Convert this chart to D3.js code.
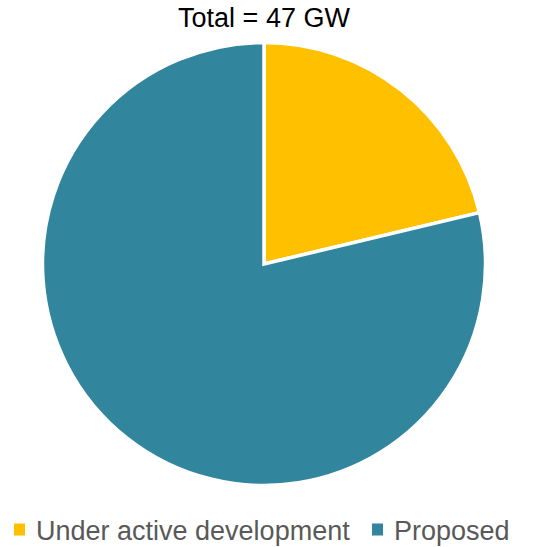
<!DOCTYPE html>
<html><head><meta charset="utf-8">
<script src="https://cdn.jsdelivr.net/npm/d3@7"></script>
<style>body{margin:0;background:#fff}svg{display:block}</style>
</head><body>
<svg id="c" width="546" height="547"></svg>
<script>
const categories = ["Under active development", "Proposed"];
const values = [10, 37];
const colors = ["#FFC000", "#31859C"];
const title = "Total = 47 GW";

const FONT = "'Liberation Sans', Arial, sans-serif";
const svg = d3.select("#c");
const cx = 264, cy = 264, r = 221.5;
const pie = d3.pie().sort(null).value(d => d.v);
const arcs = pie(categories.map((c, i) => ({c, v: values[i], col: colors[i]})));
const arc = d3.arc().innerRadius(0).outerRadius(r);
svg.append("g").attr("transform", `translate(${cx},${cy})`)
  .selectAll("path").data(arcs).join("path")
  .attr("d", arc).attr("fill", d => d.data.col)
  .attr("stroke", "#fff").attr("stroke-width", 3.5).attr("stroke-linejoin", "miter");

svg.append("text").attr("x", cx).attr("y", 27).attr("text-anchor", "middle")
  .style("font-family", FONT).style("font-size", "27px")
  .attr("fill", "#000").text(title);

const leg = svg.append("g").style("font-family", FONT).style("font-size", "27px").attr("fill", "#595959");
const legX = [14, 372];
categories.forEach((c, i) => {
  leg.append("rect").attr("x", legX[i]).attr("y", 523.5).attr("width", 11).attr("height", 12).attr("fill", colors[i]);
  leg.append("text").attr("x", legX[i] + 22).attr("y", 540).text(c);
});
</script>
</body></html>
